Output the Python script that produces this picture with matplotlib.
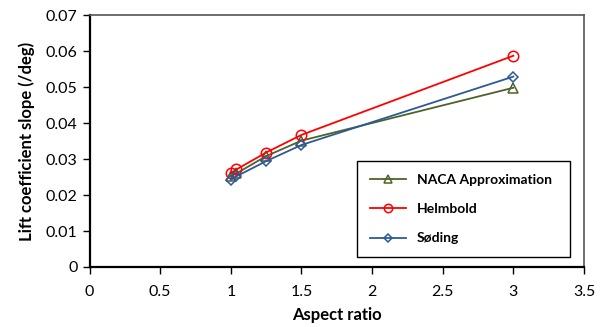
import matplotlib
matplotlib.use("Agg")
import matplotlib.pyplot as plt

plt.rcParams["font.family"] = ["Lato", "DejaVu Sans"]

# Aspect ratio vs lift coefficient slope (/deg)
aspect = [1.0, 1.04, 1.25, 1.5, 3.0]
naca = [0.0253, 0.0260, 0.0308, 0.0351, 0.0498]
helmbold = [0.0260, 0.0271, 0.0318, 0.0367, 0.0587]
soding = [0.0242, 0.0252, 0.0294, 0.0339, 0.0529]

GREEN = "#4F6228"
RED = "#FF0000"
BLUE = "#2C5A96"

fig = plt.figure(figsize=(6.01, 3.27), dpi=100)
ax = fig.add_axes([0.149, 0.1835, 0.8227, 0.7705])

ax.plot(aspect, naca, color=GREEN, lw=1.3, marker="^", ms=7,
        mfc="none", mec=GREEN, mew=1.1, label="NACA Approximation")
ax.plot(aspect, helmbold, color=RED, lw=1.3, marker="o", ms=7.5,
        mfc="none", mec=RED, mew=1.1, label="Helmbold")
ax.plot(aspect, soding, color=BLUE, lw=1.3, marker="D", ms=5.5,
        mfc="none", mec=BLUE, mew=1.1, label="Søding")

ax.set_xlim(0, 3.5)
ax.set_ylim(0, 0.07)
ax.set_xticks([0, 0.5, 1, 1.5, 2, 2.5, 3, 3.5])
ax.set_xticklabels(["0", "0.5", "1", "1.5", "2", "2.5", "3", "3.5"])
ax.set_yticks([0, 0.01, 0.02, 0.03, 0.04, 0.05, 0.06, 0.07])
ax.set_yticklabels(["0", "0.01", "0.02", "0.03", "0.04", "0.05", "0.06", "0.07"])
ax.tick_params(labelsize=11.5, direction="out", length=5, width=1, color="black")
ax.tick_params(axis="x", pad=8)

for s in ["left", "bottom"]:
    ax.spines[s].set_linewidth(1.6)
    ax.spines[s].set_color("black")
for s in ["top", "right"]:
    ax.spines[s].set_linewidth(1.2)
    ax.spines[s].set_color("#555555")

ax.set_xlabel("Aspect ratio", fontsize=12, fontweight="bold", labelpad=6)
ax.set_ylabel("Lift coefficient slope (/deg)", fontsize=12, fontweight="bold", labelpad=8)

leg = ax.legend(loc="lower left", bbox_to_anchor=(0.541, 0.04, 0.431, 0.345),
                mode="expand", borderaxespad=0, fancybox=False, framealpha=1,
                edgecolor="black", prop={"weight": "bold", "size": 10},
                labelspacing=1.25, handlelength=2.6, borderpad=0.9,
                markerscale=0.8)
leg.get_frame().set_linewidth(1.0)

fig.savefig("out.png", dpi=100)
